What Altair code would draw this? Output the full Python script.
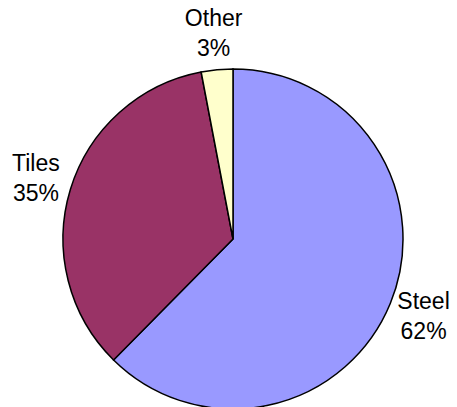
import altair as alt
import pandas as pd

categories = ["Steel", "Tiles", "Other"]
shares = [62.4, 34.6, 3.0]
labels = ["Steel\n62%", "Tiles\n35%", "Other\n3%"]
colors = ["#9999FF", "#993366", "#FFFFCC"]
slice_order = [0, 1, 2]

df = pd.DataFrame({
    "category": categories,
    "share": shares,
    "label": labels,
    "rank": slice_order,
})

base = alt.Chart(df).encode(
    theta=alt.Theta("share:Q", stack=True),
    order=alt.Order("rank:Q"),
    x=alt.value(233),
    y=alt.value(239),
)

pie = base.mark_arc(radius=170, stroke="black", strokeWidth=1.5).encode(
    color=alt.Color("category:N", scale=alt.Scale(domain=categories, range=colors), legend=None)
)

text = base.mark_text(
    radius=206, font="Liberation Sans", fontSize=23, lineBreak="\n", lineHeight=30,
    align="center", baseline="middle", dy=-15, color="black"
).encode(text="label:N")

chart = (pie + text).properties(
    width=457, height=407, padding=0, autosize="none", background="white"
).configure_view(stroke=None)

chart.save("out.html", embed_options={"renderer": "svg", "actions": False})
